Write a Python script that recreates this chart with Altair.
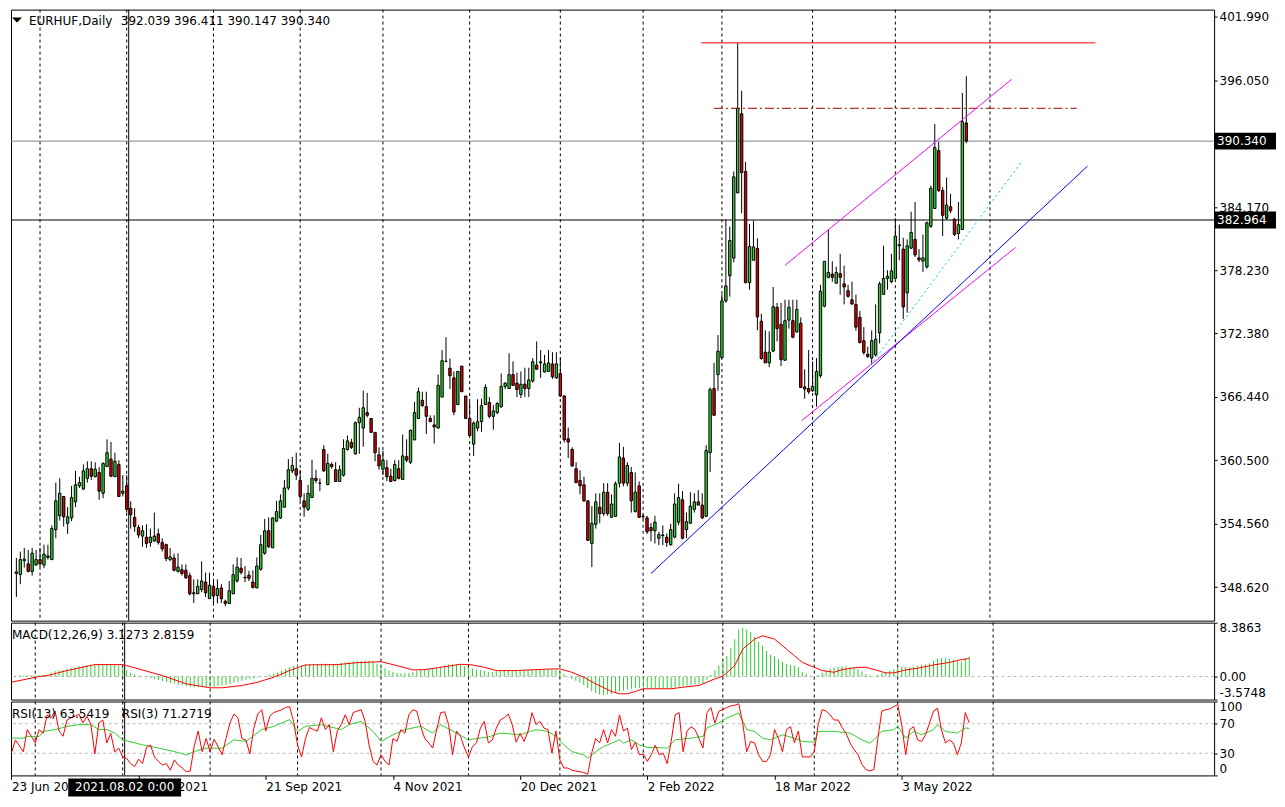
import json
import altair as alt
import numpy as np
import pandas as pd

FONT = "DejaVu Sans"
GREEN = "#32CD32"
RED = "#FF0000"
BODY_RED = "#E00000"
W, H_PRICE, H_MACD, H_RSI = 1205, 612, 77, 74
X_DOMAIN = [-0.1, 302.6]
PRICE_DOMAIN = [345.49, 402.64]
MACD_DOMAIN = [-3.5748, 8.3863]

# ---------------- EURHUF daily OHLC (bar index 0 = 23 Jun 2021) ----------------
opens = [
    349.9, 349.8, 351.1, 350.8, 350.1, 350.7, 351.2, 350.7, 351.4, 351.2,
    354.0, 355.3, 357.1, 354.6, 355.1, 356.6, 358.1, 357.8, 358.8, 359.7,
    358.95, 359.35, 357.4, 359.9, 360.6, 358.95, 360.1, 357.4, 358.1, 356.0,
    355.15, 354.2, 353.4, 353.3, 352.8, 352.95, 353.6, 352.8, 352.6, 351.2,
    351.35, 350.1, 350.25, 350.2, 349.7, 348.0, 348.0, 348.4, 349.1, 347.55,
    348.7, 347.85, 348.55, 347.3, 347.1, 348.0, 349.2, 350.4, 349.5, 349.75,
    349.1, 348.55, 350.3, 351.8, 353.9, 352.3, 354.8, 355.1, 356.1, 357.9,
    359.5, 359.7, 358.6, 356.7, 355.9, 357.0, 358.8, 358.35, 361.5, 358.2,
    360.1, 359.6, 358.5, 359.1, 361.5, 362.15, 361.1, 364.0, 363.5, 364.95,
    364.4, 363.1, 361.0, 359.65, 359.8, 359.0, 358.6, 359.7, 358.7, 360.85,
    360.3, 362.4, 364.4, 366.1, 365.5, 364.4, 363.8, 363.5, 366.4, 369.75,
    369.1, 368.2, 365.7, 369.3, 366.5, 364.4, 362.0, 363.5, 364.1, 365.7,
    365.9, 364.6, 364.95, 365.5, 367.4, 367.2, 368.5, 367.7, 366.65, 367.6,
    367.2, 367.9, 369.4, 369.6, 368.75, 368.8, 369.5, 368.2, 368.6, 366.5,
    362.5, 361.5, 359.7, 358.6, 358.2, 356.7, 352.7, 354.5, 356.1, 355.5,
    357.5, 355.15, 355.25, 358.35, 360.7, 358.35, 359.35, 355.7, 358.1, 355.25,
    355.1, 354.2, 353.9, 353.2, 353.5, 353.3, 352.6, 353.3, 354.7, 356.8,
    354.0, 354.6, 355.9, 356.6, 356.3, 355.25, 361.2, 367.2, 368.5, 370.1,
    375.4, 377.75, 379.4, 385.5, 392.9, 387.5, 377.1, 379.2, 380.3, 373.5,
    370.6, 369.6, 370.7, 374.8, 373.2, 369.85, 373.6, 373.55, 372.5, 373.3,
    367.35, 367.2, 367.0, 366.6, 368.4, 374.9, 377.6, 377.9, 377.05, 377.95,
    376.99, 376.35, 375.5, 375.07, 373.86, 371.67, 370.4, 370.05, 370.36, 372.4,
    376.0, 377.5, 377.2, 377.5, 380.55, 380.24, 376.14, 380.33, 381.15, 379.42,
    379.12, 378.57, 382.37, 384.04, 389.46, 385.72, 383.13, 384.2, 383.04, 381.7,
    382.07, 392.039,
]
highs = [
    351.35, 351.95, 352.3, 352.1, 352.3, 352.1, 352.3, 352.6, 352.6, 354.4,
    358.4, 358.8, 357.1, 356.1, 358.1, 359.5, 358.95, 360.1, 360.4, 360.4,
    360.3, 359.85, 360.3, 362.45, 362.2, 361.2, 360.5, 359.1, 359.1, 356.65,
    356.0, 354.45, 354.4, 354.5, 354.1, 355.6, 354.1, 353.2, 352.7, 352.3,
    351.75, 351.8, 350.75, 350.75, 349.98, 349.35, 349.35, 351.05, 349.98, 349.98,
    349.2, 349.35, 348.9, 347.45, 349.2, 350.75, 351.4, 351.35, 350.6, 350.15,
    350.2, 351.4, 353.5, 355.0, 355.15, 355.15, 356.7, 357.3, 358.65, 360.6,
    360.8, 361.2, 359.6, 357.4, 358.2, 360.55, 359.6, 358.8, 361.9, 361.1,
    360.3, 360.3, 360.0, 362.45, 362.8, 362.5, 364.13, 365.4, 367.0, 366.8,
    364.4, 363.1, 361.7, 361.4, 360.5, 359.7, 360.5, 360.5, 362.9, 362.45,
    363.35, 365.95, 367.3, 366.9, 366.9, 364.7, 364.7, 368.5, 370.8, 372.0,
    370.0, 368.8, 368.85, 369.3, 366.5, 365.95, 364.13, 366.2, 366.25, 367.6,
    366.4, 365.65, 365.95, 368.6, 367.8, 370.5, 369.75, 368.7, 368.8, 369.15,
    369.15, 370.05, 371.6, 370.8, 370.35, 370.8, 370.6, 370.6, 370.05, 366.6,
    363.55, 361.7, 360.3, 359.55, 358.95, 356.7, 356.2, 357.4, 357.4, 358.35,
    358.35, 357.3, 358.5, 362.1, 361.75, 360.3, 359.85, 359.35, 358.5, 355.45,
    355.3, 354.6, 355.3, 353.8, 354.4, 353.65, 354.55, 357.4, 358.3, 357.6,
    355.6, 357.5, 357.4, 357.7, 357.4, 361.9, 367.3, 369.6, 372.2, 376.0,
    383.0, 382.35, 387.5, 399.5, 395.05, 388.4, 382.6, 382.9, 381.25, 374.2,
    372.65, 372.55, 376.7, 375.2, 375.2, 375.5, 375.5, 375.5, 375.5, 373.85,
    369.0, 370.8, 369.75, 370.05, 376.9, 379.1, 382.07, 379.1, 378.6, 379.8,
    378.7, 376.9, 377.2, 375.98, 374.46, 372.94, 371.12, 372.64, 375.07, 377.2,
    380.55, 378.26, 379.8, 383.13, 382.52, 381.3, 381.15, 383.74, 384.65, 380.24,
    381.61, 382.82, 386.17, 391.95, 390.28, 386.02, 386.93, 385.41, 383.13, 384.65,
    394.84, 396.411,
]
lows = [
    347.7, 348.9, 350.45, 350.0, 349.7, 350.6, 350.5, 350.4, 351.2, 351.2,
    353.2, 354.85, 354.3, 353.6, 354.8, 356.1, 357.9, 357.7, 358.4, 358.65,
    358.9, 356.8, 356.95, 359.9, 358.95, 358.95, 357.1, 357.1, 355.6, 354.1,
    353.8, 353.2, 352.4, 352.3, 352.4, 352.85, 352.6, 351.96, 351.05, 351.05,
    350.1, 349.98, 349.7, 349.4, 347.85, 347.15, 348.0, 348.15, 347.7, 347.55,
    347.1, 347.1, 347.15, 346.85, 347.1, 348.0, 349.05, 349.8, 349.1, 349.2,
    348.5, 348.55, 350.15, 351.65, 352.3, 352.3, 354.7, 355.0, 356.1, 357.7,
    359.3, 358.65, 356.7, 355.2, 355.75, 357.0, 358.35, 357.6, 359.4, 358.2,
    359.7, 358.5, 358.5, 358.95, 361.4, 361.55, 361.0, 361.1, 361.75, 364.5,
    363.1, 360.4, 359.6, 359.1, 358.55, 358.45, 358.5, 358.7, 358.65, 360.3,
    360.15, 362.35, 364.4, 365.5, 362.95, 364.1, 362.05, 363.5, 366.4, 369.65,
    367.15, 364.7, 365.65, 366.9, 364.4, 362.8, 360.9, 363.2, 363.15, 365.65,
    364.4, 363.35, 364.8, 365.4, 367.15, 367.2, 367.45, 366.4, 366.3, 366.4,
    366.4, 367.75, 369.0, 368.2, 368.7, 368.75, 368.1, 368.1, 366.4, 362.15,
    360.7, 359.9, 358.35, 357.3, 356.6, 353.0, 350.5, 354.1, 354.6, 355.3,
    355.3, 355.1, 355.2, 357.95, 358.05, 358.05, 355.6, 355.6, 355.1, 355.0,
    353.6, 352.9, 352.7, 352.55, 352.55, 352.4, 352.5, 353.2, 354.4, 353.1,
    353.2, 354.55, 355.6, 356.3, 355.0, 355.2, 359.4, 364.67, 367.0, 370.0,
    375.2, 375.8, 379.0, 385.5, 383.6, 377.05, 376.45, 379.2, 372.65, 369.9,
    369.6, 369.2, 370.6, 371.6, 369.3, 369.8, 372.8, 371.9, 372.4, 367.3,
    366.25, 366.7, 366.9, 365.5, 368.2, 374.8, 377.5, 377.2, 377.05, 375.97,
    375.07, 375.7, 375.07, 372.6, 371.42, 370.36, 370.06, 369.45, 370.2, 371.42,
    375.98, 376.44, 377.05, 377.5, 379.2, 373.7, 374.3, 380.24, 379.5, 379.03,
    378.11, 378.42, 382.22, 384.04, 385.57, 381.46, 382.98, 383.59, 381.46, 381.15,
    382.07, 390.147,
]
closes = [
    350.05, 351.2, 351.25, 350.1, 351.8, 351.2, 350.8, 351.7, 351.55, 354.1,
    356.7, 357.4, 355.2, 355.2, 357.0, 358.2, 358.4, 359.5, 359.7, 359.0,
    359.65, 357.6, 360.2, 361.2, 359.0, 360.4, 357.1, 357.6, 355.9, 355.4,
    354.3, 353.5, 353.9, 352.7, 353.3, 353.4, 352.8, 352.2, 351.3, 351.45,
    350.2, 350.5, 349.9, 349.5, 348.0, 348.1, 348.7, 349.2, 348.1, 348.8,
    347.8, 348.5, 347.55, 347.1, 348.3, 349.8, 350.5, 350.0, 349.55, 349.45,
    348.6, 350.6, 352.6, 353.9, 352.4, 355.1, 355.7, 356.7, 357.9, 359.6,
    360.0, 359.1, 357.1, 356.1, 357.4, 358.8, 358.6, 358.35, 359.5, 360.2,
    359.9, 358.5, 359.6, 361.6, 362.3, 361.7, 364.0, 364.5, 365.4, 364.7,
    363.1, 361.2, 359.96, 360.5, 358.95, 358.5, 360.1, 358.8, 360.9, 360.5,
    363.3, 364.95, 366.9, 365.6, 364.6, 364.1, 363.6, 367.5, 369.8, 369.75,
    368.4, 365.0, 368.8, 366.9, 364.4, 362.8, 363.97, 364.1, 365.6, 367.3,
    364.6, 365.1, 365.8, 367.4, 367.7, 368.5, 367.5, 367.1, 367.6, 367.2,
    368.0, 369.7, 369.0, 369.7, 369.5, 369.6, 368.3, 369.5, 366.5, 362.4,
    362.2, 359.96, 358.4, 358.1, 356.7, 353.0, 354.6, 356.6, 355.5, 357.5,
    355.5, 356.4, 358.3, 360.8, 358.35, 360.0, 356.7, 357.5, 355.15, 355.2,
    353.8, 353.9, 354.7, 353.55, 353.45, 352.8, 354.0, 356.4, 357.0, 353.2,
    354.75, 356.2, 356.6, 356.3, 355.1, 361.4, 367.1, 364.7, 370.7, 375.4,
    376.8, 381.05, 387.0, 393.4, 387.4, 377.1, 380.5, 380.45, 373.9, 370.0,
    369.6, 370.6, 374.85, 372.8, 369.9, 373.55, 374.8, 372.0, 374.6, 367.3,
    367.15, 366.9, 367.4, 368.8, 376.3, 379.1, 378.05, 377.6, 378.05, 377.6,
    376.7, 375.83, 375.1, 372.94, 371.5, 370.57, 370.2, 371.67, 371.82, 376.99,
    377.5, 377.7, 378.2, 381.46, 380.65, 374.83, 380.55, 381.8, 379.7, 379.24,
    379.42, 382.7, 385.93, 389.73, 385.72, 383.4, 384.35, 383.83, 381.6, 382.52,
    392.16, 390.34,
]

# ---------------- MACD(12,26,9): histogram per bar, signal line points ----------------
macd_hist = [
    0.1, 0.1, 0.15, 0.15, 0.2, 0.2, 0.2, 0.2, 0.25,
    0.3, 0.6, 0.85, 0.95, 1.0, 1.2, 1.35, 1.45, 1.6, 1.7, 1.8,
    1.85, 1.8, 1.9, 2.0, 1.95, 1.95, 1.8, 1.7, 1.4, 1.0,
    0.6, 0.35, 0.15, 0.0, -0.1, -0.25, -0.4, -0.55, -0.7, -0.85,
    -1.0, -1.1, -1.25, -1.35, -1.5, -1.6, -1.65, -1.65, -1.65, -1.65,
    -1.6, -1.55, -1.45, -1.4, -1.3, -1.15, -0.95, -0.8, -0.65, -0.5,
    -0.4, -0.3, -0.15, 0.0, 0.1, 0.3, 0.45, 0.65, 0.9, 1.2,
    1.45, 1.65, 1.75, 1.8, 1.85, 1.9, 1.95, 1.95, 2.0, 2.0,
    1.95, 1.95, 2.0, 2.1, 2.2, 2.25, 2.35, 2.4, 2.45, 2.5,
    2.45, 2.3, 2.0, 1.7, 1.3, 0.95, 0.7, 0.55, 0.5, 0.5,
    0.55, 0.7, 0.9, 1.0, 1.05, 1.1, 1.15, 1.3, 1.55, 1.75,
    1.9, 1.9, 1.9, 1.85, 1.6, 1.4, 1.25, 1.1, 1.0, 0.9,
    0.75, 0.75, 0.85, 0.9, 0.9, 0.95, 0.95, 0.95, 0.95, 0.95,
    1.0, 1.05, 1.1, 1.1, 1.15, 1.2, 1.2, 1.1, 0.7, 0.35,
    0.05, -0.36, -0.65, -0.9, -1.3, -1.8, -2.3, -2.6, -2.8, -2.85,
    -2.8, -2.7, -2.55, -2.3, -2.15, -2.0, -1.9, -1.8, -1.75, -1.7,
    -1.75, -1.8, -1.85, -1.9, -1.95, -1.9, -1.85, -1.7, -1.55, -1.5,
    -1.4, -1.3, -1.2, -1.1, -1.0, -0.5, 0.3, 1.0, 1.7, 2.5,
    3.2, 4.4, 5.8, 7.3, 7.6, 7.3, 6.9, 6.2, 5.4, 4.8,
    4.0, 3.4, 3.15, 2.7, 2.3, 2.0, 1.8, 1.7, 1.45, 0.7,
    0.4, 0.1, 0.0, 0.25, 0.6, 0.95, 1.25, 1.4, 1.5, 1.6,
    1.6, 1.45, 1.35, 1.2, 0.8, 0.4, 0.15, 0.05, 0.25, 0.6,
    0.75, 0.95, 1.15, 1.4, 1.55, 1.5, 1.45, 1.6, 1.7, 1.8,
    1.9, 2.05, 2.45, 2.8, 2.9, 2.85, 2.75, 2.6, 2.45, 2.35,
    2.8, 3.13,
]
signal_i = [0, 7, 9, 14, 21, 28, 32, 38, 44, 50, 53, 58, 62, 66, 70, 74, 82, 87, 93, 97,
            101, 104, 108, 113, 116, 119, 122, 127, 136, 138, 141, 144, 147, 151, 153, 155,
            157, 159, 161, 166, 169, 173, 177, 179, 182, 184, 187, 189, 192, 194, 197, 199,
            202, 204, 207, 209, 213, 215, 218, 220, 222, 225, 228, 232, 236, 239, 241]
signal_v = [-0.88, 0.0, 0.15, 0.93, 1.86, 1.86, 1.19, 0.15, -1.13, -1.75, -1.75, -1.39, -0.88,
            -0.1, 0.93, 1.81, 1.86, 2.16, 2.32, 1.7, 1.03, 1.08, 1.44, 1.91, 1.81, 1.44, 0.93,
            0.93, 1.19, 1.19, 0.67, -0.1, -1.13, -2.32, -2.68, -2.68, -2.32, -1.9, -1.9, -1.9,
            -1.65, -1.39, -0.36, 0.05, 1.7, 4.28, 5.83, 6.34, 5.83, 4.8, 3.25, 2.2, 1.44, 0.93,
            0.67, 1.08, 1.44, 1.44, 0.93, 0.57, 0.57, 1.03, 1.29, 1.8, 2.2, 2.63, 2.82]

# ---------------- RSI(3) per bar, RSI(13) line points ----------------
rsi3 = [
    30, 48, 40, 32, 62, 53, 44, 62, 57, 82, 78, 87, 60, 53, 75, 78, 80, 83, 71, 80,
    69, 29, 71, 75, 44, 57, 32, 37, 25, 23, 16, 12, 22, 16, 38, 41, 25, 19, 14, 16,
    7, 21, 14, 10, 5, 6, 40, 60, 32, 50, 32, 49, 39, 28, 50, 71, 83, 78, 50, 48,
    29, 64, 83, 89, 60, 80, 85, 87, 89, 92, 93, 73, 41, 25, 50, 65, 62, 60, 78, 62,
    69, 32, 60, 69, 82, 69, 85, 87, 89, 73, 41, 19, 14, 28, 19, 14, 50, 46, 62, 57,
    82, 89, 87, 66, 50, 44, 37, 62, 85, 86, 69, 28, 60, 53, 37, 25, 39, 44, 64, 73,
    44, 48, 64, 75, 78, 83, 69, 45, 57, 46,
    60, 85, 69, 73, 64, 62, 30, 60, 21, 10,
    10, 7, 6, 5, 4, 1.5, 30, 50, 44, 62,
    44, 62, 53, 82, 60, 64, 35, 45, 28, 29,
    19, 28, 41, 28, 30, 16, 46, 82, 85, 32,
    60, 66, 62, 50, 37, 85, 92, 71, 87, 89,
    92, 94, 95, 97, 71, 32, 46, 44, 28, 19,
    19, 28, 62, 50, 32, 62, 66, 44, 60, 25,
    25, 25, 32, 69, 89, 87, 82, 75, 75, 65,
    57, 44, 35, 28, 15, 8, 6, 8, 50, 87,
    89, 90, 93, 96, 69, 28, 62, 66, 48, 46,
    55, 71, 87, 91, 62, 44, 48, 44, 28, 44,
    85, 71.27,
]
rsi13_i = [0, 3, 4, 7, 8, 11, 14, 17, 20, 22, 24, 26, 28, 33, 37, 41, 44, 46, 49, 53,
           56, 59, 63, 66, 70, 72, 74, 78, 83, 85, 88, 91, 93, 96, 99, 103, 106, 108, 112, 115,
           118, 120, 123, 128, 132, 135, 137, 139, 141, 144, 145, 147, 149, 153, 154, 156, 158,
           160, 162, 165, 167, 171, 174, 175, 178, 180, 183, 185, 187, 189, 191, 194, 197, 199,
           202, 203, 207, 211, 214, 216, 217, 219, 222, 223, 225, 227, 229, 232, 233, 235, 238,
           240, 241]
rsi13_v = [50.5, 50.5, 52.8, 52.8, 59.6, 61.9, 66.4, 68.7, 68.7, 62, 62, 57.3, 48.2, 41.4, 36.9,
           32.3, 27.8, 32.3, 36.9, 36.9, 48.2, 46, 62, 66.4, 75.5, 59.6, 66.4, 68.7, 62, 68.7,
           73.2, 59.6, 46, 55, 62, 66.4, 57.3, 68.7, 57.3, 48.2, 50.5, 52, 57.3, 55, 62, 59.6,
           52.8, 41.4, 32.3, 27.8, 23.2, 32.3, 39.1, 48.2, 43.7, 48.2, 41.4, 37.8, 37.8, 36.9,
           48.2, 50.5, 52.8, 64.2, 71, 77.8, 84.6, 62, 59.6, 50.5, 48.2, 55, 50.5, 46, 45, 59.6,
           59.6, 57.3, 48.2, 43.7, 48.2, 59.6, 62, 66.4, 50.5, 59.6, 55, 62, 68.7, 59.6, 57.3,
           64.2, 63.54]

# ---------------- axis / annotation values ----------------
price_ticks = [401.99, 396.05, 384.17, 378.23, 372.38, 366.44, 360.50, 354.56, 348.62]
date_tick_bars = [0, 32, 64, 96, 128, 160, 192, 224]
date_tick_labels = ["23 Jun 2021", "6 Aug 2021", "21 Sep 2021", "4 Nov 2021",
                    "20 Dec 2021", "2 Feb 2022", "18 Mar 2022", "3 May 2022"]
month_grid_bars = [6, 28, 50, 72, 93, 115, 138, 159, 179, 202, 223, 247]
cross_bar = 28.5
cross_price = 382.964
cross_date = "2021.08.02 0:00"
last_price = 390.340
macd_title = "MACD(12,26,9) 3.1273 2.8159"
rsi_titles = ["RSI(13) 63.5419", "RSI(3) 71.2719"]

resist_i, resist_p = [173.75, 273.75], [399.53, 399.53]
dashdot_i, dashdot_p = [177, 269], [393.41, 393.41]
chan_up_i, chan_up_p = [195, 252.5], [378.72, 396.12]
chan_lo_i, chan_lo_p = [199.25, 253.5], [364.2, 380.4]
trend_i, trend_p = [161, 271.75], [349.9, 388.0]
cyan_i, cyan_p = [216.75, 255], [369.4, 388.4]

n = len(closes)
assert len(opens) == len(highs) == len(lows) == n == len(macd_hist) == len(rsi3) == 242
assert len(signal_i) == len(signal_v) and len(rsi13_i) == len(rsi13_v)

candles = pd.DataFrame({"i": range(n), "open": opens, "high": highs, "low": lows, "close": closes})
candles["dir"] = np.where(candles["close"] >= candles["open"], "up", "down")

xs = alt.Scale(domain=X_DOMAIN, nice=False, zero=False)
ys = alt.Scale(domain=PRICE_DOMAIN, nice=False, zero=False)
ym = alt.Scale(domain=MACD_DOMAIN, nice=False, zero=False)
yr = alt.Scale(domain=[0, 100], nice=False, zero=False)
px_per_bar = W / (X_DOMAIN[1] - X_DOMAIN[0])
px_per_price = H_PRICE / (PRICE_DOMAIN[1] - PRICE_DOMAIN[0])


def right_axis(**kw):
    base = dict(orient="right", labelFont=FONT, labelFontSize=12, labelColor="black",
                tickColor="black", tickSize=3, labelPadding=2, domain=False, grid=False,
                title=None, labelOverlap=False)
    base.update(kw)
    return alt.Axis(**base)


PRICE_AXIS = right_axis(values=price_ticks, format=".3f")
MACD_AXIS = right_axis(
    values=[MACD_DOMAIN[0], 0, MACD_DOMAIN[1]], labelFlush=True,
    labelExpr="datum.value == 0 ? '0.00' : (datum.value < 0 ? '-' + format(-datum.value, '.4f') "
              ": format(datum.value, '.4f'))")
RSI_AXIS = right_axis(values=[0, 30, 70, 100], labelFlush=True, format="d")
DATE_AXIS = alt.Axis(values=date_tick_bars,
                     labelExpr=f"{json.dumps(date_tick_labels)}[round(datum.value / 32)]",
                     labelAlign="left", labelBaseline="top", labelFlush=False, labelOverlap=False,
                     labelFont=FONT, labelFontSize=12, labelColor="black", tickColor="black",
                     tickSize=4, labelPadding=2, domain=False, grid=False, title=None)


def X(field="i", axis=None):
    return alt.X(f"{field}:Q", scale=xs, axis=axis)


one = pd.DataFrame({"a": [0]})
grid_df = pd.DataFrame({"i": month_grid_bars})
cross_df = pd.DataFrame({"i": [cross_bar]})


def common_vertical(xaxis=None):
    g = alt.Chart(grid_df).mark_rule(color="black", strokeDash=[3, 3], strokeWidth=1).encode(
        x=X(axis=xaxis))
    c = alt.Chart(cross_df).mark_rule(color="black", strokeWidth=1).encode(x=X(axis=xaxis))
    return [g, c]


def PY(field):
    return alt.Y(f"{field}:Q", scale=ys, axis=PRICE_AXIS)


def line_layer(ii, pp, color, dash=None):
    df = pd.DataFrame({"i": ii, "p": pp})
    kw = dict(color=color, strokeWidth=1)
    if dash:
        kw["strokeDash"] = dash
    return alt.Chart(df).mark_line(**kw).encode(x=X(), y=PY("p"))


# ---------------- price panel ----------------
hl_cur = alt.Chart(pd.DataFrame({"p": [last_price]})).mark_rule(color="#778899", strokeWidth=1).encode(
    y=PY("p"))
hl_cross = alt.Chart(pd.DataFrame({"p": [cross_price]})).mark_rule(color="black", strokeWidth=1).encode(
    y=PY("p"))

wicks = alt.Chart(candles).mark_rule(color="black", strokeWidth=1).encode(
    x=X(), y=PY("low"), y2="high:Q")
bodies = alt.Chart(candles).mark_bar(size=2.4, stroke="black", strokeWidth=1).encode(
    x=X(), y=PY("open"), y2="close:Q",
    color=alt.Color("dir:N", scale=alt.Scale(domain=["up", "down"], range=[GREEN, BODY_RED]),
                    legend=None))

lines = [
    line_layer(resist_i, resist_p, "#FF0000"),
    line_layer(dashdot_i, dashdot_p, "#990000", [9, 3, 2, 3]),
    line_layer(chan_up_i, chan_up_p, "#FF00FF"),
    line_layer(chan_lo_i, chan_lo_p, "#FF00FF"),
    line_layer(trend_i, trend_p, "#0000FF"),
    line_layer(cyan_i, cyan_p, "#00BFFF", [2, 3]),
]

box_half = 8.5 / px_per_price
boxes = pd.DataFrame({"p": [last_price, cross_price]})
boxes["top"] = boxes["p"] + box_half
boxes["bot"] = boxes["p"] - box_half
boxes["label"] = boxes["p"].map(lambda v: f"{v:.3f}")
box_rect = alt.Chart(boxes).mark_rect(color="black").encode(
    x=alt.value(W), x2=alt.value(W + 62), y=PY("top"), y2="bot:Q")
box_text = alt.Chart(boxes).mark_text(color="white", align="left", baseline="middle", font=FONT,
                                      fontSize=12).encode(
    x=alt.value(W + 3), y=PY("p"), text="label:N")

tri = alt.Chart(one).mark_point(shape="M -1 -0.5 L 1 -0.5 L 0 0.5 Z", filled=True, color="black",
                                opacity=1, size=100).encode(x=alt.value(6), y=alt.value(10.5))
sym_text = alt.Chart(one).mark_text(text="EURHUF,Daily", align="left", baseline="middle", font=FONT,
                                    fontSize=12, color="black").encode(x=alt.value(18), y=alt.value(11.5))
ohlc_text = alt.Chart(one).mark_text(
    text=f"{opens[-1]:.3f} {highs[-1]:.3f} {lows[-1]:.3f} {closes[-1]:.3f}",
    align="left", baseline="middle", font=FONT, fontSize=12, color="black").encode(
    x=alt.value(110), y=alt.value(11.5))

price = alt.layer(*common_vertical(), hl_cur, hl_cross, wicks, bodies, *lines, box_rect, box_text,
                  tri, sym_text, ohlc_text).properties(width=W, height=H_PRICE)

# ---------------- MACD panel ----------------
macd_df = pd.DataFrame({"i": range(n), "h": macd_hist, "zero": 0.0})
sig_df = pd.DataFrame({"i": signal_i, "v": signal_v})
macd_zero = alt.Chart(pd.DataFrame({"v": [0.0]})).mark_rule(
    color="#BBBBBB", strokeDash=[3, 3], strokeWidth=1).encode(
    y=alt.Y("v:Q", scale=ym, axis=MACD_AXIS))
macd_bars = alt.Chart(macd_df).mark_rule(color=GREEN, strokeWidth=1).encode(
    x=X(), y=alt.Y("h:Q", scale=ym, axis=MACD_AXIS), y2="zero:Q")
sig_line = alt.Chart(sig_df).mark_line(color=RED, strokeWidth=1).encode(
    x=X(), y=alt.Y("v:Q", scale=ym, axis=MACD_AXIS))
macd_label = alt.Chart(one).mark_text(text=macd_title, align="left", baseline="middle", font=FONT,
                                      fontSize=12, color="black").encode(x=alt.value(1), y=alt.value(12))
macd = alt.layer(macd_zero, *common_vertical(), macd_bars, sig_line, macd_label).properties(
    width=W, height=H_MACD)

# ---------------- RSI panel ----------------
r3_df = pd.DataFrame({"i": range(n), "v": rsi3})
r13_df = pd.DataFrame({"i": rsi13_i, "v": rsi13_v})
levels = alt.Chart(pd.DataFrame({"v": [70, 30]})).mark_rule(color="#BBBBBB", strokeDash=[3, 3],
                                                              strokeWidth=1).encode(
    y=alt.Y("v:Q", scale=yr, axis=RSI_AXIS))
r13_line = alt.Chart(r13_df).mark_line(color=GREEN, strokeWidth=1).encode(
    x=X(axis=DATE_AXIS), y=alt.Y("v:Q", scale=yr, axis=RSI_AXIS))
r3_line = alt.Chart(r3_df).mark_line(color=RED, strokeWidth=1).encode(
    x=X(axis=DATE_AXIS), y=alt.Y("v:Q", scale=yr, axis=RSI_AXIS))
rsi_label1 = alt.Chart(one).mark_text(text=rsi_titles[0], align="left", baseline="middle", font=FONT,
                                      fontSize=12, color="black").encode(x=alt.value(1), y=alt.value(12))
rsi_label2 = alt.Chart(one).mark_text(text=rsi_titles[1], align="left", baseline="middle", font=FONT,
                                      fontSize=12, color="black").encode(x=alt.value(111), y=alt.value(12))
half_box_bars = 56.5 / px_per_bar
cbox = pd.DataFrame({"i": [cross_bar], "x0": [cross_bar - half_box_bars],
                     "x1": [cross_bar + half_box_bars], "label": [cross_date]})
cbox_rect = alt.Chart(cbox).mark_rect(color="black").encode(
    x=X("x0", axis=DATE_AXIS), x2="x1:Q", y=alt.value(H_RSI + 3), y2=alt.value(H_RSI + 21))
cbox_text = alt.Chart(cbox).mark_text(color="white", align="center", baseline="middle", font=FONT,
                                      fontSize=12).encode(x=X(axis=DATE_AXIS), y=alt.value(H_RSI + 12),
                                                          text="label:N")
rsi = alt.layer(levels, *common_vertical(DATE_AXIS), r13_line, r3_line, rsi_label1, rsi_label2,
                cbox_rect, cbox_text).properties(width=W, height=H_RSI)

chart = alt.vconcat(price, macd, rsi, spacing=2, bounds="flush").properties(
    padding=0, background="white").configure_view(stroke="black", strokeWidth=1)

chart.save("out.html", embed_options={"renderer": "svg", "actions": False})
